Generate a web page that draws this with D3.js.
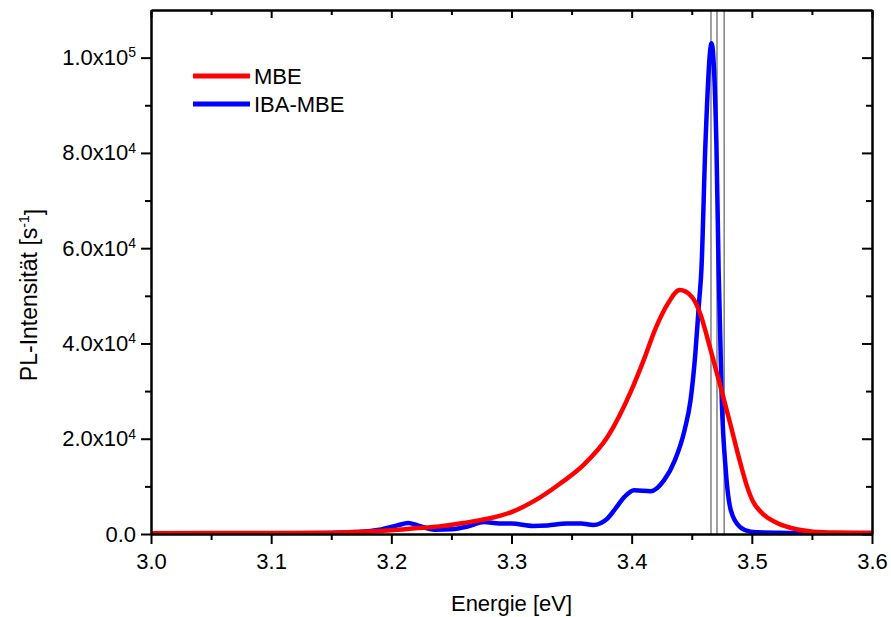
<!DOCTYPE html>
<html>
<head>
<meta charset="utf-8">
<script src="https://cdn.jsdelivr.net/npm/d3@7"></script>
<style>
  body { margin: 0; background: #fff; }
  svg text { font-family: "Liberation Sans", Arial, sans-serif; fill: #000; }
</style>
</head>
<body>
<div class="graph"></div>
<script>
// MBE sample
var mbeEnergy = [3.00, 3.05, 3.10, 3.15, 3.18, 3.20, 3.22, 3.24, 3.26, 3.28, 3.30, 3.32, 3.34, 3.36, 3.38, 3.40, 3.41, 3.42, 3.43, 3.44, 3.45, 3.457, 3.465, 3.474, 3.482, 3.490, 3.496, 3.501, 3.508, 3.521, 3.537, 3.551, 3.57, 3.60];
var mbeCounts = [150, 200, 200, 250, 500, 800, 1200, 1600, 2300, 3200, 4600, 7100, 10500, 14500, 20400, 30300, 36500, 43200, 48300, 51200, 49800, 46300, 39300, 30900, 23200, 15300, 10000, 6800, 4500, 2300, 1000, 500, 300, 250];

// IBA-MBE sample
var ibaEnergy = [3.00, 3.10, 3.15, 3.17, 3.19, 3.205, 3.214, 3.222, 3.236, 3.25, 3.264, 3.277, 3.29, 3.30, 3.318, 3.33, 3.346, 3.358, 3.368, 3.38, 3.387, 3.394, 3.402, 3.416, 3.427, 3.436, 3.444, 3.449, 3.453, 3.456, 3.458, 3.4614, 3.4665, 3.4705, 3.4724, 3.475, 3.4783, 3.4825, 3.490, 3.499, 3.51, 3.523, 3.55, 3.60];
var ibaCounts = [100, 100, 200, 400, 900, 1800, 2300, 1800, 900, 1000, 1600, 2500, 2200, 2200, 1700, 1800, 2200, 2200, 1900, 3300, 5500, 7800, 9200, 9000, 11300, 15500, 21800, 28100, 37900, 48400, 55300, 82000, 103000, 82000, 55000, 28000, 13400, 5000, 1500, 500, 300, 250, 150, 100];

// reference lines (gray)
var refLines = [3.466, 3.471, 3.477];

var xMajor = [3.0, 3.1, 3.2, 3.3, 3.4, 3.5, 3.6];
var xMinor = [3.05, 3.15, 3.25, 3.35, 3.45, 3.55];
var yMajor = [0, 20000, 40000, 60000, 80000, 100000];
var yMinor = [10000, 30000, 50000, 70000, 90000];

var seriesNames = ['MBE', 'IBA-MBE'];
var seriesColours = ['#ff0000', '#0000ff'];

var width = 891,
    height = 617,
    plotL = 151, plotR = 872, plotT = 10, plotB = 534,
    fontSize = 22;

var x = d3.scaleLinear().domain([3.0, 3.6]).range([plotL, plotR]);
var y = d3.scaleLinear().domain([0, 110000]).range([plotB, plotT]);

var svg = d3.select('.graph').append('svg')
    .attr('width', width)
    .attr('height', height)
    .style('display', 'block');

svg.append('clipPath').attr('id', 'plot')
  .append('rect')
    .attr('x', plotL).attr('y', plotT)
    .attr('width', plotR - plotL).attr('height', plotB - plotT);

// gray reference lines
svg.append('g').selectAll('line')
    .data(refLines)
    .enter().append('line')
    .attr('x1', function(d) { return x(d); })
    .attr('x2', function(d) { return x(d); })
    .attr('y1', plotT).attr('y2', plotB)
    .style('stroke', '#888')
    .style('stroke-width', 1.6);

var line = d3.line()
    .x(function(d) { return x(d[0]); })
    .y(function(d) { return y(d[1]); })
    .curve(d3.curveMonotoneX);

var series = [
    d3.zip(ibaEnergy, ibaCounts),
    d3.zip(mbeEnergy, mbeCounts)
];
var seriesCol = [seriesColours[1], seriesColours[0]];

svg.append('g').attr('clip-path', 'url(#plot)')
  .selectAll('path')
    .data(series)
    .enter().append('path')
    .attr('d', line)
    .style('fill', 'none')
    .style('stroke', function(d, i) { return seriesCol[i]; })
    .style('stroke-width', 4.5)
    .style('stroke-linejoin', 'round');

// axes
function styleAxis(g) {
    g.select('.domain').style('stroke', '#000').style('stroke-width', 2);
    g.selectAll('.tick line').style('stroke', '#000').style('stroke-width', 2);
    g.selectAll('text').style('font-size', fontSize + 'px');
}

svg.append('g')
    .attr('transform', 'translate(0,' + plotB + ')')
    .call(d3.axisBottom(x).tickValues(xMajor).tickSize(10).tickSizeOuter(0).tickPadding(9)
        .tickFormat(d3.format('.1f')))
    .call(styleAxis);
svg.append('g')
    .attr('transform', 'translate(0,' + plotB + ')')
    .call(d3.axisBottom(x).tickValues(xMinor).tickSize(6).tickSizeOuter(0).tickFormat(''))
    .call(styleAxis);
svg.append('g')
    .attr('transform', 'translate(0,' + plotT + ')')
    .call(d3.axisTop(x).tickValues(xMajor).tickSize(-8).tickSizeOuter(0).tickFormat(''))
    .call(styleAxis);
svg.append('g')
    .attr('transform', 'translate(0,' + plotT + ')')
    .call(d3.axisTop(x).tickValues(xMinor).tickSize(-5).tickSizeOuter(0).tickFormat(''))
    .call(styleAxis);

var yAxis = svg.append('g')
    .attr('transform', 'translate(' + plotL + ',0)')
    .call(d3.axisLeft(y).tickValues(yMajor).tickSize(10).tickSizeOuter(0).tickPadding(5))
    .call(styleAxis);
svg.append('g')
    .attr('transform', 'translate(' + plotL + ',0)')
    .call(d3.axisLeft(y).tickValues(yMinor).tickSize(6).tickSizeOuter(0).tickFormat(''))
    .call(styleAxis);
svg.append('g')
    .attr('transform', 'translate(' + plotR + ',0)')
    .call(d3.axisRight(y).tickValues(yMajor).tickSize(-10).tickSizeOuter(0).tickFormat(''))
    .call(styleAxis);
svg.append('g')
    .attr('transform', 'translate(' + plotR + ',0)')
    .call(d3.axisRight(y).tickValues(yMinor).tickSize(-6).tickSizeOuter(0).tickFormat(''))
    .call(styleAxis);

// scientific labels like 2.0x10^4
yAxis.selectAll('.tick text').each(function(d) {
    var t = d3.select(this).text('');
    if (d === 0) { t.text('0.0'); return; }
    var exp = Math.floor(Math.log10(d));
    var mant = d / Math.pow(10, exp);
    t.append('tspan').text(mant.toFixed(1) + 'x10');
    t.append('tspan').attr('dy', '-0.55em').style('font-size', '14px').text(exp);
});

// axis titles
svg.append('text')
    .attr('x', (plotL + plotR) / 2)
    .attr('y', 611)
    .attr('text-anchor', 'middle')
    .style('font-size', fontSize + 'px')
    .text('Energie [eV]');

var yt = svg.append('text')
    .attr('transform', 'translate(37,295) rotate(-90)')
    .attr('text-anchor', 'middle')
    .style('font-size', '23px');
yt.append('tspan').text('PL-Intensität [s');
yt.append('tspan').attr('dy', '-0.55em').style('font-size', '14px').text('-1');
yt.append('tspan').attr('dy', '0.55em').text(']');

// legend
var legend = svg.append('g').selectAll('g')
    .data(seriesNames)
    .enter().append('g')
    .attr('transform', function(d, i) { return 'translate(193,' + (76 + i * 28) + ')'; });
legend.append('line')
    .attr('x1', 0).attr('x2', 57)
    .style('stroke', function(d, i) { return seriesColours[i]; })
    .style('stroke-width', 5);
legend.append('text')
    .attr('x', 61)
    .attr('dy', '0.36em')
    .style('font-size', fontSize + 'px')
    .text(function(d) { return d; });
</script>
</body>
</html>
